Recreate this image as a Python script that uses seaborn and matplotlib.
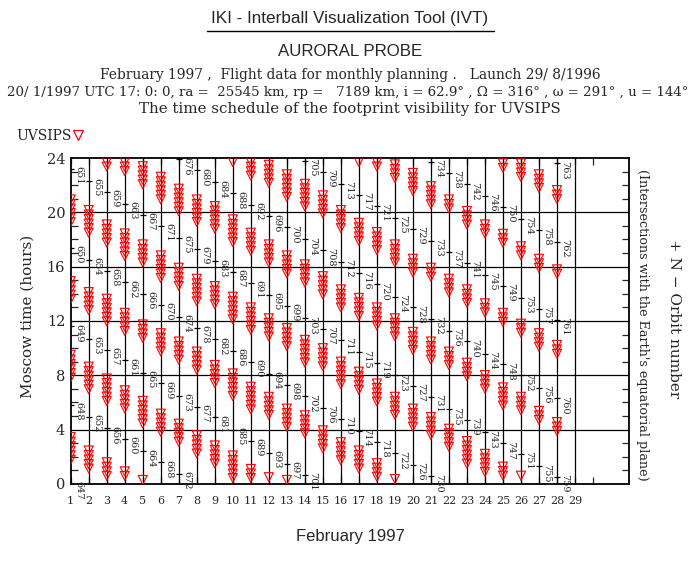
import numpy as np
import pandas as pd
import matplotlib
matplotlib.use('Agg')
import matplotlib.pyplot as plt
import seaborn as sns
from matplotlib.lines import Line2D
from matplotlib.ticker import MultipleLocator

sns.set_style('white')
SERIF = ['DejaVu Serif', 'DejaVu Sans']
NARROW = ['Liberation Sans Narrow', 'Liberation Sans', 'DejaVu Sans']
plt.rcParams['font.family'] = SERIF

# --- 軌道番号（赤道面通過）: 日付と時刻（モスクワ時間） ---
orbit_numbers = list(range(647, 764))
orbit_days = ([1] * 5 + [2] * 4 + [3] * 4 + [4] * 4 + [5] * 4 + [6] * 4 + [7] * 5
              + [8] * 4 + [9] * 4 + [10] * 4 + [11] * 4 + [12] * 4 + [13] * 4
              + [14] * 5 + [15] * 4 + [16] * 4 + [17] * 4 + [18] * 4 + [19] * 4
              + [20] * 4 + [21] * 5 + [22] * 4 + [23] * 4 + [24] * 4 + [25] * 4
              + [26] * 4 + [27] * 4 + [28] * 5)
orbit_hours = [0.0, 5.8, 11.6, 17.4, 23.2,
               4.95, 10.7, 16.5, 22.3,
               4.1, 9.9, 15.7, 21.5,
               3.3, 9.1, 14.85, 20.6,
               2.4, 8.2, 14.0, 19.8,
               1.6, 7.4, 13.2, 19.0,
               0.75, 6.5, 12.3, 18.1, 23.9,
               5.7, 11.5, 17.3, 23.1,
               4.9, 10.65, 16.4, 22.2,
               4.0, 9.8, 15.6, 21.4,
               3.2, 9.0, 14.8, 20.55,
               2.3, 8.1, 13.9, 19.7,
               1.5, 7.3, 13.1, 18.9,
               0.66, 6.45, 12.2, 18.0, 23.8,
               5.6, 11.4, 17.2, 23.0,
               4.8, 10.6, 16.35, 22.1,
               3.9, 9.7, 15.5, 21.3,
               3.1, 8.9, 14.7, 20.5,
               2.25, 8.0, 13.8, 19.6,
               1.4, 7.2, 13.0, 18.8,
               0.57, 6.4, 12.15, 17.9, 23.7,
               5.5, 11.3, 17.1, 22.9,
               4.7, 10.5, 16.3, 22.05,
               3.8, 9.6, 15.4, 21.2,
               3.0, 8.8, 14.6, 20.4,
               2.2, 8.0, 13.7, 19.5,
               1.3, 7.1, 12.9, 18.7,
               0.5, 6.3, 12.1, 17.85, 23.6]

# --- UVSIPS 視野の可視区間（日, 上端, 下端 [時]） ---
vis_days = ([1] * 4 + [2] * 4 + [3] * 5 + [4] * 5 + [5] * 5 + [6] * 4 + [7] * 4
            + [8] * 4 + [9] * 4 + [10] * 5 + [11] * 5 + [12] * 5 + [13] * 5
            + [14] * 4 + [15] * 4 + [16] * 4 + [17] * 5 + [18] * 5 + [19] * 5
            + [20] * 4 + [21] * 4 + [22] * 4 + [23] * 4 + [24] * 4 + [25] * 5
            + [26] * 5 + [27] * 4 + [28] * 4)
vis_top = [21.25, 15.24, 9.8, 3.75,
           20.47, 14.43, 8.94, 2.77,
           24.0, 19.41, 13.94, 8.07, 1.9,
           24.0, 18.75, 12.9, 7.2, 1.23,
           23.7, 17.94, 12.05, 6.42, 0.6,
           22.92, 17.13, 11.4, 5.48,
           22.04, 16.22, 10.79, 4.74,
           21.25, 15.41, 10.05, 3.88,
           20.76, 14.87, 9.06, 3.14,
           24.0, 19.78, 14.09, 8.44, 2.4,
           24.0, 18.8, 13.3, 7.46, 1.41,
           23.8, 17.94, 12.5, 6.72, 0.8,
           23.1, 17.13, 11.78, 5.85, 0.6,
           22.4, 16.47, 10.91, 5.36,
           21.55, 15.6, 10.3, 4.25,
           20.47, 14.63, 9.31, 3.38,
           24.0, 19.53, 14.0, 8.57, 2.77,
           24.0, 18.85, 13.3, 7.7, 1.83,
           23.83, 17.94, 12.5, 6.72, 0.67,
           23.2, 16.88, 11.5, 5.85,
           22.23, 16.22, 10.79, 5.23,
           21.25, 15.41, 10.05, 4.37,
           20.4, 14.63, 9.23, 3.46,
           19.41, 13.6, 8.32, 2.52,
           23.9, 18.72, 12.9, 7.41, 1.58,
           23.9, 17.8, 12.1, 6.72, 0.91,
           23.1, 16.88, 11.4, 5.68,
           21.94, 16.1, 10.54, 4.86]
vis_bottom = [18.92, 13.28, 7.46, 1.41,
              18.11, 12.42, 6.59, 0.74,
              22.92, 17.33, 11.56, 5.78, 0.0,
              22.48, 16.47, 10.9, 4.99, 0.0,
              21.5, 15.73, 10.17, 4.0, 0.0,
              20.64, 14.87, 9.19, 3.26,
              19.78, 14.01, 8.57, 2.52,
              18.92, 13.15, 7.83, 1.65,
              18.43, 12.66, 6.84, 0.91,
              23.2, 17.45, 11.8, 6.1, 0.05,
              22.3, 16.6, 11.0, 5.11, 0.0,
              21.6, 15.98, 10.3, 4.49, 0.0,
              20.76, 15.1, 9.56, 3.63, 0.0,
              20.0, 14.4, 8.57, 3.14,
              19.3, 13.5, 8.07, 2.02,
              18.43, 12.54, 6.96, 1.16,
              23.34, 17.57, 11.93, 6.35, 0.54,
              22.85, 16.88, 11.3, 5.48, 0.0,
              21.99, 15.98, 10.4, 4.49, 0.0,
              21.0, 15.24, 9.4, 3.63,
              20.27, 14.63, 8.81, 3.01,
              19.66, 13.77, 8.2, 2.15,
              18.8, 12.96, 7.33, 1.16,
              17.82, 12.3, 6.47, 0.59,
              22.9, 17.15, 11.4, 5.43, 0.0,
              22.1, 16.34, 10.67, 4.84, 0.0,
              21.5, 15.6, 9.8, 4.12,
              20.64, 14.87, 8.99, 3.31]

day_lines = list(range(2, 30))
hour_lines = [4, 8, 12, 16, 20]
day_labels = [str(d) for d in range(1, 30)] + ['']

# 可視区間を20分刻みのマーカー列に展開
STEP = 1.0 / 3.0
HALF = 0.3
rows = []
for d, top, bot in zip(vis_days, vis_top, vis_bottom):
    hi, lo = top - HALF, bot + HALF
    if hi < lo:
        times = [(hi + lo) / 2]
    else:
        times = np.arange(hi, lo - 0.01, -STEP)
    for t in times:
        rows.append((d, t))
markers = pd.DataFrame(rows, columns=['day', 'hour'])

fig = plt.figure(figsize=(7.0, 5.7), dpi=100)
ax = fig.add_axes([0.101, 0.1509, 0.7976, 0.5719])
ax.set_xlim(1, 32)
ax.set_ylim(0, 24)

ax.vlines(day_lines, 0, 24, color='black', lw=0.9, zorder=1)
ax.hlines(hour_lines, 1, 32, color='black', lw=0.9, zorder=1)

sns.scatterplot(data=markers, x='day', y='hour', marker='v', s=42,
                facecolors='none', edgecolors='red', linewidths=0.8,
                ax=ax, legend=False, zorder=3, clip_on=True)

o_day = np.array(orbit_days, dtype=float)
ax.hlines(orbit_hours, o_day - 0.17, o_day + 0.17, color='black', lw=0.9, zorder=4)
for num, d, h in zip(orbit_numbers, orbit_days, orbit_hours):
    ax.text(d + 0.18, h + 0.2, str(num), rotation=270,
            ha='left', va='top', fontsize=7, family=SERIF, zorder=5,
            clip_on=False)

ax.set_xticks(range(1, 31))
ax.set_xticklabels(day_labels, fontsize=8)
ax.set_yticks([0, 4, 8, 12, 16, 20, 24])
ax.set_yticklabels(['0', '4', '8', '12', '16', '20', '24'], fontsize=10.5)
ax.yaxis.set_minor_locator(MultipleLocator(1))
ax.tick_params(axis='x', which='major', direction='in', top=True, bottom=True,
               length=5, width=0.9, pad=9)
ax.tick_params(axis='y', which='major', length=0, pad=4)
ax.tick_params(axis='y', which='minor', direction='in', left=True, right=True,
               length=5, width=0.9)
ax.set_xlabel('')
ax.set_ylabel('')
for sp in ax.spines.values():
    sp.set_color('black')
    sp.set_linewidth(1.3)

# タイトル類
fig.text(0.5, 1 - 18 / 570, 'IKI - Interball Visualization Tool (IVT)',
         ha='center', va='center', fontsize=12.3, family=NARROW)
fig.add_artist(Line2D([207 / 700, 494 / 700], [1 - 31 / 570] * 2,
                      color='black', lw=1))
fig.text(0.5, 1 - 51 / 570, 'AURORAL PROBE', ha='center', va='center',
         fontsize=12.2, family=NARROW)
fig.text(0.5, 1 - 75 / 570,
         'February 1997 ,  Flight data for monthly planning .   Launch 29/ 8/1996',
         ha='center', va='center', fontsize=9.9, family=SERIF)
fig.text(7 / 700, 1 - 92 / 570,
         '20/ 1/1997 UTC 17: 0: 0, ra =  25545 km, rp =   7189 km, i = 62.9° , '
         'Ω = 316° , ω = 291° , u = 144°',
         ha='left', va='center', fontsize=9.6, family=SERIF)
fig.text(0.5, 1 - 109 / 570, 'The time schedule of the footprint visibility for UVSIPS',
         ha='center', va='center', fontsize=10.8, family=SERIF)

fig.text(28 / 700, 1 - 316 / 570, 'Moscow time (hours)', rotation=90,
         ha='center', va='center', fontsize=11, family=SERIF)
fig.text(674 / 700, 1 - 319 / 570, '+ N \u2212 Orbit number', rotation=270,
         ha='center', va='center', fontsize=11, family=SERIF)
fig.text(642 / 700, 1 - 325 / 570,
         "(Intersections with the Earth's equatorial plane)", rotation=270,
         ha='center', va='center', fontsize=9.2, family=SERIF)
fig.text(0.5, 1 - 536 / 570, 'February 1997', ha='center', va='center',
         fontsize=12, family=NARROW)

handle = Line2D([], [], marker='v', ls='none', mfc='none', mec='red', ms=7, mew=0.9)
fig.legend([handle], ['UVSIPS'], loc='center left',
           bbox_to_anchor=(16 / 700, 1 - 136 / 570), frameon=False,
           markerfirst=False, handlelength=0.6, handletextpad=0.15,
           borderpad=0, borderaxespad=0, prop={'family': SERIF, 'size': 10})

fig.savefig('out.png', dpi=100)
